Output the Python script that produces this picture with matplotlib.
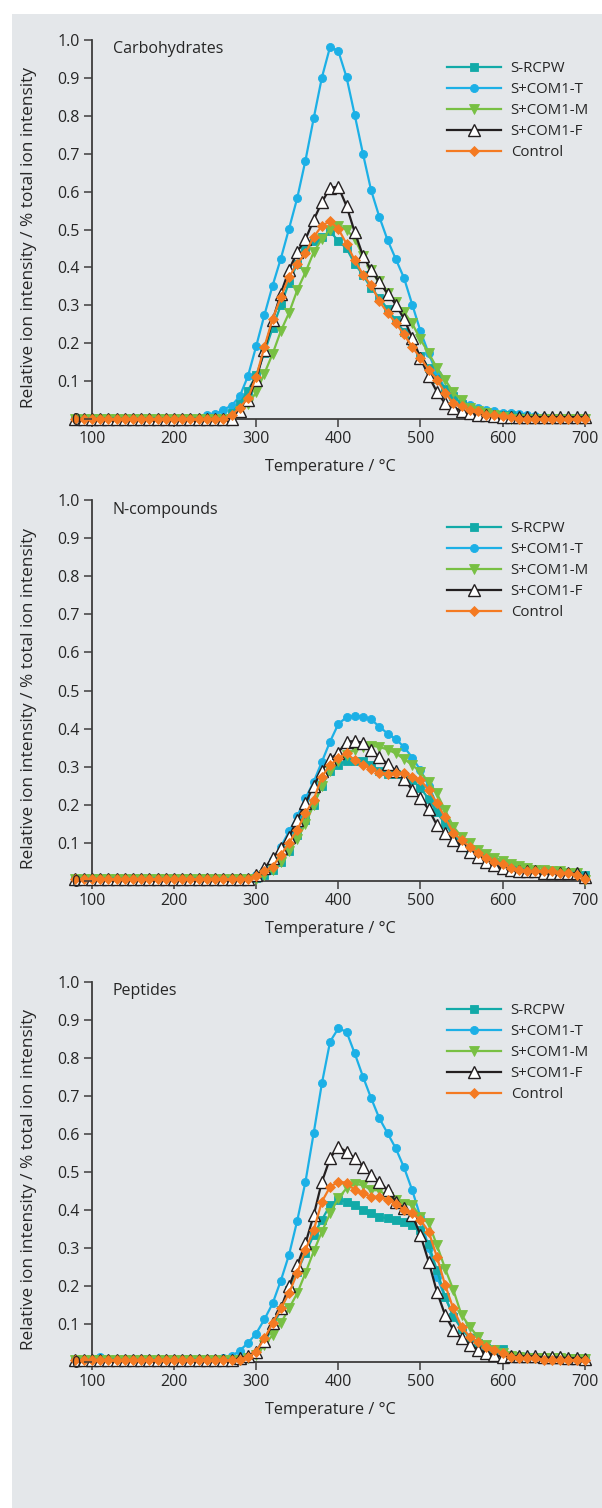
import numpy as np
import matplotlib
matplotlib.use("Agg")
import matplotlib.pyplot as plt
from matplotlib.patches import Rectangle

plt.rcParams['font.family'] = ['Open Sans', 'DejaVu Sans']

# temperature axis, one point every 10 degC
temperature = np.arange(80, 701, 10)

series_names = ['S-RCPW', 'S+COM1-T', 'S+COM1-M', 'S+COM1-F', 'Control']
panel_titles = ['Carbohydrates', 'N-compounds', 'Peptides']

# ---- Carbohydrates ----
carb_rcpw = [0.0] * 19 + [0.015, 0.04, 0.075, 0.115, 0.175, 0.24, 0.30, 0.36, 0.41, 0.445,
                          0.47, 0.48, 0.495, 0.47, 0.45, 0.41, 0.38, 0.345, 0.32, 0.29,
                          0.26, 0.23, 0.20, 0.165, 0.135, 0.105, 0.08, 0.06, 0.04, 0.03,
                          0.02, 0.015, 0.01, 0.01, 0.01, 0.005] + [0.0] * 8
carb_t = [0.0] * 16 + [0.01, 0.012, 0.025, 0.035, 0.06, 0.113, 0.192, 0.274, 0.352, 0.423,
                       0.502, 0.583, 0.682, 0.793, 0.901, 0.982, 0.971, 0.902, 0.802, 0.70,
                       0.603, 0.533, 0.472, 0.422, 0.372, 0.302, 0.232, 0.173, 0.12, 0.08,
                       0.055, 0.045, 0.036, 0.028, 0.025, 0.02, 0.015, 0.015, 0.012, 0.01,
                       0.008, 0.005] + [0.0] * 5
carb_m = [0.0] * 20 + [0.02, 0.04, 0.07, 0.12, 0.172, 0.232, 0.28, 0.34, 0.387, 0.44,
                       0.475, 0.50, 0.51, 0.50, 0.475, 0.431, 0.394, 0.364, 0.333, 0.308,
                       0.282, 0.252, 0.21, 0.174, 0.135, 0.104, 0.07, 0.05, 0.03, 0.02,
                       0.015, 0.01, 0.005] + [0.0] * 10
carb_f = [0.0] * 20 + [0.02, 0.05, 0.104, 0.183, 0.26, 0.331, 0.393, 0.441, 0.474, 0.525,
                       0.572, 0.61, 0.613, 0.562, 0.493, 0.431, 0.392, 0.361, 0.331, 0.302,
                       0.264, 0.214, 0.161, 0.113, 0.072, 0.041, 0.03, 0.022, 0.015, 0.01,
                       0.01, 0.008, 0.005] + [0.005] * 10
carb_ctrl = [0.0] * 19 + [0.01, 0.03, 0.055, 0.111, 0.19, 0.264, 0.321, 0.375, 0.409, 0.438,
                          0.48, 0.51, 0.522, 0.502, 0.462, 0.419, 0.381, 0.353, 0.311, 0.28,
                          0.253, 0.223, 0.19, 0.161, 0.13, 0.104, 0.069, 0.042, 0.033, 0.024,
                          0.02, 0.011, 0.01, 0.008, 0.005] + [0.0] * 9

# ---- N-compounds ----
ncomp_rcpw = [0.005] * 22 + [0.008, 0.015, 0.03, 0.05, 0.08, 0.12, 0.16, 0.2, 0.25, 0.29,
                             0.305, 0.315, 0.315, 0.315, 0.305, 0.29, 0.28, 0.28, 0.275, 0.265,
                             0.245, 0.215, 0.18, 0.15, 0.12, 0.1, 0.08, 0.07, 0.06, 0.05,
                             0.045, 0.04, 0.035, 0.03, 0.025, 0.02, 0.02, 0.02, 0.02, 0.02,
                             0.015]
ncomp_t = [0.005] * 22 + [0.015, 0.03, 0.055, 0.09, 0.13, 0.17, 0.217, 0.26, 0.313, 0.366,
                          0.412, 0.43, 0.433, 0.431, 0.424, 0.405, 0.387, 0.372, 0.352, 0.324,
                          0.291, 0.25, 0.2, 0.16, 0.12, 0.1, 0.08, 0.065, 0.055, 0.045,
                          0.04, 0.035, 0.03, 0.03, 0.025, 0.025, 0.02, 0.02, 0.015, 0.015,
                          0.01]
ncomp_m = [0.005] * 22 + [0.005, 0.015, 0.03, 0.05, 0.08, 0.11, 0.15, 0.2, 0.25, 0.29,
                          0.315, 0.33, 0.345, 0.352, 0.355, 0.352, 0.345, 0.335, 0.32, 0.305,
                          0.285, 0.26, 0.23, 0.186, 0.143, 0.116, 0.1, 0.082, 0.07, 0.06,
                          0.052, 0.045, 0.04, 0.035, 0.03, 0.03, 0.025, 0.025, 0.02, 0.02,
                          0.003]
ncomp_f = [0.005] * 22 + [0.015, 0.033, 0.06, 0.086, 0.116, 0.16, 0.204, 0.25, 0.29, 0.32,
                          0.337, 0.366, 0.367, 0.363, 0.344, 0.326, 0.307, 0.29, 0.267, 0.239,
                          0.217, 0.188, 0.147, 0.125, 0.107, 0.094, 0.077, 0.064, 0.05, 0.042,
                          0.033, 0.029, 0.027, 0.025, 0.025, 0.022, 0.022, 0.02, 0.02, 0.02,
                          0.01]
ncomp_ctrl = [0.005] * 22 + [0.012, 0.025, 0.038, 0.068, 0.1, 0.134, 0.178, 0.213, 0.274, 0.304,
                             0.322, 0.335, 0.317, 0.305, 0.294, 0.283, 0.282, 0.283, 0.283, 0.274,
                             0.265, 0.239, 0.204, 0.167, 0.126, 0.108, 0.09, 0.073, 0.06, 0.051,
                             0.045, 0.034, 0.03, 0.025, 0.025, 0.025, 0.025, 0.02, 0.02, 0.015,
                             0.006]

# ---- Peptides ----
pept_rcpw = [0.005] * 21 + [0.01, 0.02, 0.05, 0.093, 0.137, 0.19, 0.238, 0.286, 0.334, 0.374,
                            0.413, 0.426, 0.422, 0.413, 0.4, 0.391, 0.382, 0.378, 0.374, 0.369,
                            0.36, 0.347, 0.31, 0.242, 0.172, 0.119, 0.088, 0.062, 0.049, 0.036,
                            0.033, 0.033, 0.015, 0.015, 0.012, 0.012, 0.01, 0.01, 0.01, 0.01,
                            0.01, 0.01]
pept_t = [0.005, 0.005, 0.005, 0.012] + [0.005] * 14 + [
    0.01, 0.015, 0.03, 0.05, 0.075, 0.112, 0.154, 0.214, 0.282, 0.372,
    0.474, 0.602, 0.733, 0.843, 0.878, 0.869, 0.812, 0.751, 0.694, 0.641,
    0.602, 0.562, 0.512, 0.452, 0.382, 0.3, 0.225, 0.17, 0.124, 0.088,
    0.066, 0.044, 0.036, 0.027, 0.018, 0.015, 0.015, 0.015, 0.012, 0.012,
    0.01, 0.01, 0.01, 0.01, 0.01]
pept_m = [0.005] * 21 + [0.01, 0.018, 0.044, 0.071, 0.102, 0.141, 0.181, 0.234, 0.291, 0.343,
                         0.391, 0.431, 0.457, 0.468, 0.466, 0.452, 0.452, 0.435, 0.426, 0.417,
                         0.413, 0.382, 0.365, 0.308, 0.246, 0.19, 0.124, 0.093, 0.066, 0.045,
                         0.031, 0.024, 0.015, 0.012, 0.01, 0.01, 0.01, 0.01, 0.01, 0.008,
                         0.008, 0.008]
pept_f = [0.005] * 19 + [0.005, 0.01, 0.015, 0.027, 0.054, 0.102, 0.141, 0.199, 0.255, 0.312,
                         0.386, 0.474, 0.536, 0.567, 0.553, 0.536, 0.514, 0.492, 0.474, 0.452,
                         0.422, 0.404, 0.387, 0.334, 0.264, 0.185, 0.124, 0.084, 0.062, 0.045,
                         0.032, 0.025, 0.018, 0.014, 0.015, 0.015, 0.015, 0.015, 0.012, 0.012,
                         0.012, 0.01, 0.01, 0.009]
pept_ctrl = [0.005] * 21 + [0.012, 0.027, 0.062, 0.102, 0.141, 0.181, 0.234, 0.295, 0.347, 0.422,
                            0.461, 0.474, 0.472, 0.452, 0.444, 0.435, 0.435, 0.426, 0.417, 0.4,
                            0.391, 0.374, 0.343, 0.277, 0.203, 0.141, 0.093, 0.066, 0.053, 0.04,
                            0.031, 0.024, 0.014, 0.01, 0.01, 0.01, 0.005, 0.005, 0.005, 0.005,
                            0.005, 0.005]

panels = [
    [carb_rcpw, carb_t, carb_m, carb_f, carb_ctrl],
    [ncomp_rcpw, ncomp_t, ncomp_m, ncomp_f, ncomp_ctrl],
    [pept_rcpw, pept_t, pept_m, pept_f, pept_ctrl],
]

colors = ['#12aaa8', '#1cb0e6', '#78c043', '#231f20', '#f47a22']
markers = ['s', 'o', 'v', '^', 'D']
msizes = [5.8, 5.8, 7, 8.5, 5.3]
face = ['#12aaa8', '#1cb0e6', '#78c043', 'white', '#f47a22']
# draw order: blue, teal, green, black, orange on top
zorders = [3, 2, 4, 5, 6]

W, H = 602, 1508
fig = plt.figure(figsize=(W / 100, H / 100), dpi=100)
fig.patch.set_facecolor('white')
bg = '#e4e7ea'
fig.add_artist(Rectangle((12 / W, 0), 1, 1 - 14 / H, transform=fig.transFigure,
                         facecolor=bg, edgecolor='none', zorder=-10))

txt = '#262626'
spine_c = '#3d3d3d'
# (y pixel of 0, y pixel of 1.0)
panel_px = [(419, 40), (881, 500), (1362, 982)]
left_px, right_px = 73, 588

for p, (ys, (y0, y1)) in enumerate(zip(panels, panel_px)):
    ax = fig.add_axes([left_px / W, 1 - y0 / H, (right_px - left_px) / W, (y0 - y1) / H])
    ax.set_facecolor('none')
    for i in range(5):
        ax.plot(temperature, ys[i], color=colors[i], lw=1.6, marker=markers[i],
                ms=msizes[i], mfc=face[i], mec=colors[i], mew=1.0 if i == 3 else 0.6,
                label=series_names[i], zorder=zorders[i], clip_on=False)
    ax.set_xlim(77, 704)
    ax.set_ylim(0, 1.0)
    ax.spines['top'].set_visible(False)
    ax.spines['right'].set_visible(False)
    ax.spines['left'].set_position(('data', 100))
    for s in ['left', 'bottom']:
        ax.spines[s].set_color(spine_c)
        ax.spines[s].set_linewidth(1.3)
        ax.spines[s].set_zorder(1)
    ax.yaxis.set_zorder(10)
    ax.set_xticks(np.arange(100, 701, 100))
    ax.set_yticks(np.arange(0, 1.01, 0.1))
    ax.set_yticklabels(['0'] + ['%.1f' % v for v in np.arange(0.1, 1.01, 0.1)])
    ax.tick_params(direction='out', length=6, width=1.1, color=spine_c,
                   labelsize=11.5, labelcolor=txt, pad=2.5)
    ax.set_xlabel('Temperature / °C', fontsize=11.7, color=txt, labelpad=9)
    ax.set_ylabel('Relative ion intensity / % total ion intensity', fontsize=12.4,
                  color=txt)
    ax.yaxis.set_label_coords(-0.07, 0.48)
    ax.text(125.5, 0.975, panel_titles[p], transform=ax.transData, fontsize=11.5,
            color=txt, va='center', ha='left')
    leg = ax.legend(loc='upper left', bbox_to_anchor=(0.726, 0.944), frameon=False,
                    fontsize=10.8, handlelength=3.6, handletextpad=0.65, labelspacing=0.4,
                    borderpad=0, borderaxespad=0, numpoints=1)
    for t in leg.get_texts():
        t.set_color(txt)

fig.savefig('out.png', dpi=100, facecolor=fig.get_facecolor())
